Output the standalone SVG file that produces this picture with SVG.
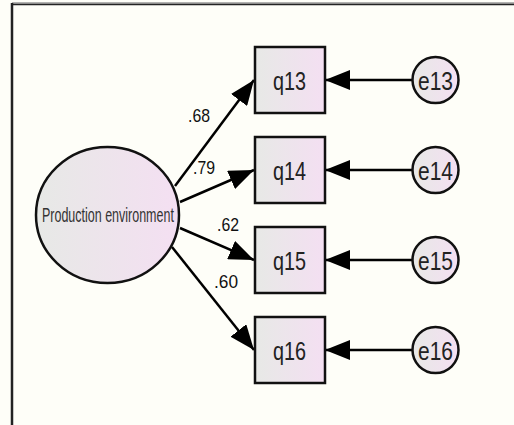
<svg xmlns="http://www.w3.org/2000/svg" width="514" height="425" viewBox="0 0 514 425">
  <defs>
    <linearGradient id="fillg" x1="0" y1="0" x2="1" y2="0">
      <stop offset="0" stop-color="#e7e9e6"/>
      <stop offset="1" stop-color="#f4dff2"/>
    </linearGradient>
    <marker id="ah" viewBox="0 0 25 20" refX="25" refY="10" markerWidth="25" markerHeight="20" markerUnits="userSpaceOnUse" orient="auto">
      <path d="M0,0 L25,10 L0,20 Z" fill="#000"/>
    </marker>
    <style>
      .shape { fill: url(#fillg); stroke: #111; stroke-width: 2.5; }
      .conn { stroke: #000; stroke-width: 2.5; fill: none; marker-end: url(#ah); }
      .t { font-family: "Liberation Sans", Arial, sans-serif; fill: #222; }
      .big { font-size: 25px; }
      .lbl { font-size: 19px; fill: #111; }
      .pe { font-size: 20px; fill: #333; }
    </style>
  </defs>
  <rect x="0" y="0" width="514" height="425" fill="#fefef8"/>
  <line x1="12" y1="3" x2="514" y2="3" stroke="#999" stroke-width="1.5"/>
  <line x1="12" y1="4.5" x2="514" y2="4.5" stroke="#222" stroke-width="1.5"/>
  <line x1="12" y1="3" x2="12" y2="425" stroke="#222" stroke-width="2.5"/>

  <g id="connectors">
    <line class="conn" x1="175" y1="186" x2="254" y2="80"/>
    <line class="conn" x1="180" y1="202" x2="254" y2="170"/>
    <line class="conn" x1="180" y1="228" x2="254" y2="260"/>
    <line class="conn" x1="172" y1="247" x2="254" y2="350"/>
    <line class="conn" x1="412" y1="80" x2="325" y2="80"/>
    <line class="conn" x1="412" y1="170" x2="325" y2="170"/>
    <line class="conn" x1="412" y1="260" x2="325" y2="260"/>
    <line class="conn" x1="412" y1="350" x2="325" y2="350"/>
    <text class="t lbl" x="188" y="122" textLength="22" lengthAdjust="spacingAndGlyphs">.68</text>
    <text class="t lbl" x="193" y="174" textLength="22" lengthAdjust="spacingAndGlyphs">.79</text>
    <text class="t lbl" x="217" y="231" textLength="22" lengthAdjust="spacingAndGlyphs">.62</text>
    <text class="t lbl" x="214" y="288" textLength="24" lengthAdjust="spacingAndGlyphs">.60</text>
  </g>

  <g id="production-environment">
    <ellipse class="shape" cx="107.5" cy="215" rx="71.5" ry="68"/>
    <text class="t pe" transform="translate(42,221.5) scale(0.625,1)" x="0" y="0">Production environment</text>
  </g>

  <g id="q13">
    <rect class="shape" x="255" y="47" width="70" height="66"/>
    <text class="t big" x="273" y="89.5" textLength="33" lengthAdjust="spacingAndGlyphs">q13</text>
  </g>
  <g id="q14">
    <rect class="shape" x="255" y="137" width="70" height="66"/>
    <text class="t big" x="273" y="179.5" textLength="33" lengthAdjust="spacingAndGlyphs">q14</text>
  </g>
  <g id="q15">
    <rect class="shape" x="255" y="227" width="70" height="66"/>
    <text class="t big" x="273" y="269.5" textLength="33" lengthAdjust="spacingAndGlyphs">q15</text>
  </g>
  <g id="q16">
    <rect class="shape" x="255" y="317" width="70" height="66"/>
    <text class="t big" x="273" y="359.5" textLength="33" lengthAdjust="spacingAndGlyphs">q16</text>
  </g>

  <g id="e13">
    <circle class="shape" cx="435.5" cy="80" r="23"/>
    <text class="t big" x="418" y="90" textLength="35" lengthAdjust="spacingAndGlyphs">e13</text>
  </g>
  <g id="e14">
    <circle class="shape" cx="435.5" cy="170" r="23"/>
    <text class="t big" x="418" y="180" textLength="35" lengthAdjust="spacingAndGlyphs">e14</text>
  </g>
  <g id="e15">
    <circle class="shape" cx="435.5" cy="260" r="23"/>
    <text class="t big" x="418" y="270" textLength="35" lengthAdjust="spacingAndGlyphs">e15</text>
  </g>
  <g id="e16">
    <circle class="shape" cx="435.5" cy="350" r="23"/>
    <text class="t big" x="418" y="360" textLength="35" lengthAdjust="spacingAndGlyphs">e16</text>
  </g>
</svg>
